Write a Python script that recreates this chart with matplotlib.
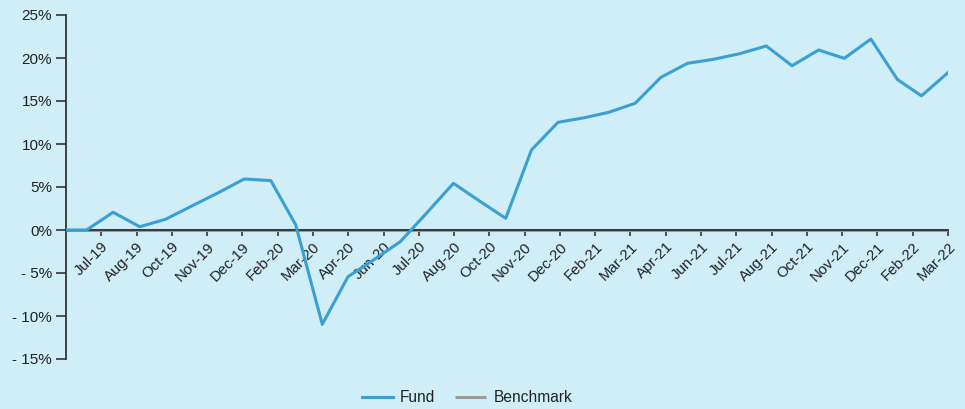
import matplotlib
matplotlib.use("Agg")
import matplotlib.pyplot as plt
import matplotlib.dates as mdates
import numpy as np
import pandas as pd

plt.rcParams['font.family'] = ['Liberation Sans', 'DejaVu Sans']

dates = ["2019-06-06", "2019-06-30", "2019-07-31", "2019-08-31", "2019-09-30", "2019-10-31",
         "2019-11-30", "2019-12-31", "2020-01-31", "2020-02-29", "2020-03-31", "2020-04-30",
         "2020-05-31", "2020-06-30", "2020-07-31", "2020-08-31", "2020-09-30", "2020-10-31",
         "2020-11-30", "2020-12-31", "2021-01-31", "2021-02-28", "2021-03-31", "2021-04-30",
         "2021-05-31", "2021-06-30", "2021-07-31", "2021-08-31", "2021-09-30", "2021-10-31",
         "2021-11-30", "2021-12-31", "2022-01-31", "2022-02-28", "2022-03-31"]
fund = [0.0, 0.0, 2.06, 0.38, 1.24, 2.8, 4.3, 5.93, 5.74, 0.6, -10.97, -5.43,
        -3.4, -1.36, 2.0, 5.43, 3.4, 1.36, 9.3, 12.52, 13.06, 13.68, 14.73, 17.75,
        19.38, 19.84, 20.5, 21.4, 19.1, 20.93, 19.96, 22.2, 17.5, 15.6, 18.3]
benchmark = [0.0] * len(dates)

tick_labels = ["Jul-19", "Aug-19", "Oct-19", "Nov-19", "Dec-19", "Feb-20", "Mar-20", "Apr-20",
               "Jun-20", "Jul-20", "Aug-20", "Oct-20", "Nov-20", "Dec-20", "Feb-21", "Mar-21",
               "Apr-21", "Jun-21", "Jul-21", "Aug-21", "Oct-21", "Nov-21", "Dec-21", "Feb-22",
               "Mar-22"]
y_ticks = [-15, -10, -5, 0, 5, 10, 15, 20, 25]

bg = '#CFEEF8'
W, H = 965, 409
fig = plt.figure(figsize=(W / 100, H / 100), dpi=100, facecolor=bg)
ax = fig.add_axes([66 / W, 1 - 359 / H, (948 - 66) / W, (359 - 15) / H], facecolor=bg)

for s in ['top', 'right']:
    ax.spines[s].set_visible(False)
ax.spines['bottom'].set_position(('data', 0))
ax.spines['bottom'].set_color('#333333')
ax.spines['bottom'].set_linewidth(1.3)
ax.spines['bottom'].set_zorder(2.5)
ax.spines['left'].set_color('#333333')
ax.spines['left'].set_linewidth(1.3)

x = pd.to_datetime(dates)
xn = mdates.date2num(x)
l_b, = ax.plot(xn, benchmark, color='#999999', lw=2.2, zorder=2, label='Benchmark', solid_capstyle='butt')
l_f, = ax.plot(xn, fund, color='#3A9FD2', lw=2.2, zorder=3, label='Fund')

x0, x1 = xn.min(), xn.max()
ax.set_xlim(x0, x1)
ax.set_ylim(-15, 25)

n = len(tick_labels)
tpos = [x0 + (k + 1) * (x1 - x0) / n for k in range(n)]
ax.set_xticks(tpos)
ax.set_xticklabels(tick_labels, fontsize=10.8, color='#222222')
for lab in ax.get_xticklabels():
    lab.set_rotation(45)
    lab.set_ha('right')
    lab.set_va('top')
    lab.set_rotation_mode('anchor')
ax.set_yticks(y_ticks)
ax.set_yticklabels([f"{v}%" if v >= 0 else f"- {abs(v)}%" for v in y_ticks],
                   fontsize=11, color='#222222')

ax.tick_params(axis='x', length=4, width=1.2, color='#333333', pad=3)
ax.tick_params(axis='y', length=7, width=1.2, color='#333333', pad=3)

fig.legend([l_f, l_b], ['Fund', 'Benchmark'], loc='center', ncol=2,
           bbox_to_anchor=(467 / W, 1 - 398 / H), frameon=False,
           fontsize=11.2, handlelength=2.0, handletextpad=0.45, columnspacing=1.3,
           labelcolor='#222222')

fig.savefig('out.png', dpi=100, facecolor=bg)
